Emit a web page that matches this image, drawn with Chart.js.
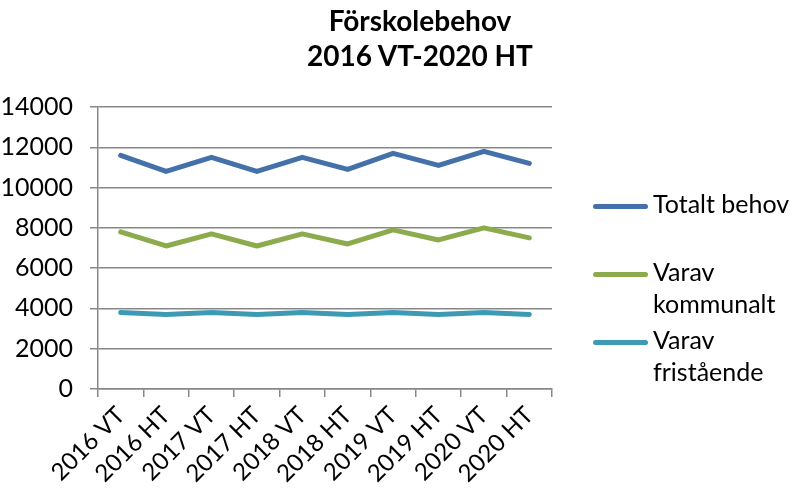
<!DOCTYPE html>
<html>
<head>
<meta charset="utf-8">
<script src="https://cdn.jsdelivr.net/npm/chart.js@4.4.1/dist/chart.umd.min.js"></script>
<style>
  html, body { margin: 0; padding: 0; background: #fff; }
  #wrap { position: relative; width: 792px; height: 489px; font-family: Lato, "Open Sans", sans-serif; color: #000; }
  #chart { position: absolute; left: 0; top: 0; }
  #title { position: absolute; left: 220px; top: 3px; width: 400px; text-align: center;
           font-weight: bold; font-size: 28px; line-height: 35px; }
  .leg { position: absolute; left: 593px; display: flex; align-items: flex-start; }
  .leg .swatch { width: 55px; height: 5px; border-radius: 3px; margin-top: 17px; }
  .leg .txt { width: 150px; margin-left: 5px; font-size: 25px; line-height: 32px; }
</style>
</head>
<body>
<div id="wrap">
  <canvas id="chart" width="792" height="489"></canvas>
  <div id="title">Förskolebehov<br>2016 VT-2020 HT</div>
  <div id="legend"></div>
</div>
<script>
// ─── Data ─────────────────────────────────────────────────────────────────────
const terms = ['2016 VT', '2016 HT', '2017 VT', '2017 HT', '2018 VT',
               '2018 HT', '2019 VT', '2019 HT', '2020 VT', '2020 HT'];
const totaltBehov  = [11600, 10800, 11500, 10800, 11500, 10900, 11700, 11100, 11800, 11200];
const kommunalt    = [7800, 7100, 7700, 7100, 7700, 7200, 7900, 7400, 8000, 7500];
const fristaende   = [3800, 3700, 3800, 3700, 3800, 3700, 3800, 3700, 3800, 3700];
const yTicks       = [0, 2000, 4000, 6000, 8000, 10000, 12000, 14000];

const GRID = '#878787';
const FONT = 'Lato, "Open Sans", sans-serif';

function series(label, data, color) {
  return {
    label, data,
    borderColor: color,
    backgroundColor: color,
    borderWidth: 5,
    borderCapStyle: 'round',
    borderJoinStyle: 'round',
    pointRadius: 0,
    tension: 0,
  };
}

const chart = new Chart(document.getElementById('chart'), {
  type: 'line',
  data: {
    labels: terms,
    datasets: [
      series('Totalt behov', totaltBehov, '#4471a9'),
      series('Varav kommunalt', kommunalt, '#8cab4d'),
      series('Varav fristående', fristaende, '#3d9ab5'),
    ],
  },
  options: {
    responsive: false,
    animation: false,
    layout: { padding: { left: 0, right: 240, top: 107, bottom: 0 } },
    plugins: { legend: { display: false }, title: { display: false }, tooltip: { enabled: false } },
    scales: {
      x: {
        offset: true,
        grid: { offset: true, drawOnChartArea: false, drawTicks: true, tickLength: 8, color: GRID, lineWidth: 1.5 },
        border: { color: GRID, width: 1.5 },
        ticks: { color: '#000', font: { family: FONT, size: 24 }, maxRotation: 45, minRotation: 45, padding: 4, autoSkip: false },
        afterFit: s => { s.height = 100; },
      },
      y: {
        min: 0, max: 14000,
        afterBuildTicks: s => { s.ticks = yTicks.map(v => ({ value: v })); },
        grid: { color: GRID, lineWidth: 1.5, tickLength: 8 },
        border: { color: GRID, width: 1.5 },
        ticks: { color: '#000', font: { family: FONT, size: 25 }, padding: 17, callback: v => String(v) },
        afterFit: s => { s.width = 98; },
      },
    },
  },
});

// ─── HTML legend (multi-line labels) ──────────────────────────────────────────
const legendTops = [187, 255, 323];
const legendEl = document.getElementById('legend');
chart.data.datasets.forEach((ds, i) => {
  const item = document.createElement('div');
  item.className = 'leg';
  item.style.top = legendTops[i] + 'px';
  item.innerHTML = `<div class="swatch" style="background:${ds.borderColor}"></div><div class="txt">${ds.label}</div>`;
  legendEl.appendChild(item);
});
</script>
</body>
</html>
